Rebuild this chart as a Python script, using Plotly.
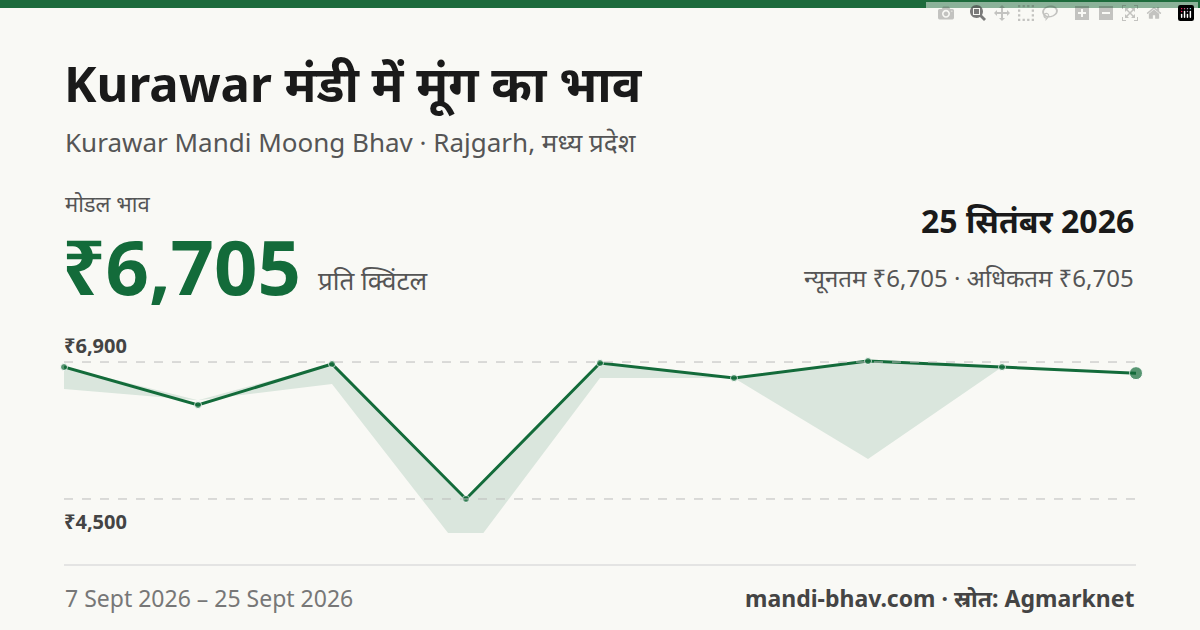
import plotly.graph_objects as go

dates = ["7 Sep","9 Sep","11 Sep","13 Sep","15 Sep","17 Sep","19 Sep","22 Sep","25 Sep"]
modal = [6812, 6147, 6865, 4500, 6882, 6620, 6917, 6812, 6705]
upper = [6812, 6230, 6865, 4500, 6882, 6620, 6917, 6812, 6705]
lower = [6427, 6230, 6515, 3500, 6620, 6620, 5200, 6812, 6705]
tick_vals = [6900, 4500]
tick_text = ["₹6,900", "₹4,500"]

GREEN = "#136b3a"
L, R, T, B = 64, 1136, 330, 533
def px(x): return (x - L) / (R - L)
def py(y): return (B - y) / (B - T)

fig = go.Figure()
xs = list(range(len(dates)))
fig.add_trace(go.Scatter(x=xs, y=upper, mode="lines", line=dict(width=0), hoverinfo="skip", showlegend=False))
fig.add_trace(go.Scatter(x=xs, y=lower, mode="lines", line=dict(width=0), fill="tonexty",
                         fillcolor="rgba(19,107,58,0.13)", hoverinfo="skip", showlegend=False))
fig.add_trace(go.Scatter(x=xs, y=modal, mode="lines+markers", line=dict(color=GREEN, width=3),
                         marker=dict(color=GREEN, size=[7]*8 + [13]), showlegend=False, cliponaxis=False))

for v in tick_vals:
    fig.add_shape(type="line", xref="paper", x0=0, x1=1, yref="y", y0=v, y1=v,
                  line=dict(color="#bbbbbb", width=1, dash="dash"))
fig.add_shape(type="line", xref="paper", yref="paper", x0=0, x1=1, y0=py(565), y1=py(565),
              line=dict(color="#dddddd", width=1.5))
fig.add_shape(type="rect", xref="paper", yref="paper", x0=px(0), x1=px(1200), y0=py(0), y1=py(8),
              fillcolor="#1d6b3c", line=dict(width=0))

def ann(text, x, y, size, color="#1a1a1a", xa="left", ya="middle", bold=False):
    if bold:
        text = "<b>" + text + "</b>"
    fig.add_annotation(text=text, x=px(x), y=py(y), xref="paper", yref="paper", showarrow=False,
                       xanchor=xa, yanchor=ya, font=dict(size=size, color=color, family="Noto Sans"))

ann("Kurawar मंडी में मूंग का भाव", 62, 84, 49, bold=True)
ann("Kurawar Mandi Moong Bhav · Rajgarh, मध्य प्रदेश", 63, 142, 26, color="#555555")
ann("मोडल भाव", 63, 203, 22, color="#555555")
ann("₹6,705", 60, 265, 76, color=GREEN, bold=True)
ann("प्रति क्विंटल", 316, 280, 26, color="#555555")
ann("25 सितंबर 2026", 1136, 220, 32, xa="right", bold=True)
ann("न्यूनतम ₹6,705 · अधिकतम ₹6,705", 1136, 277, 24, color="#555555", xa="right")
ann(tick_text[0], 62, 345, 20, color="#444444", bold=True)
ann(tick_text[1], 62, 521, 20, color="#444444", bold=True)
ann("7 Sept 2026 – 25 Sept 2026", 63, 598, 23, color="#777777")
ann("mandi-bhav.com · स्रोत: Agmarknet", 1136, 598, 23, color="#444444", xa="right", bold=True)

fig.update_layout(width=1200, height=630, margin=dict(l=L, r=1200 - R, t=T, b=630 - B),
                  paper_bgcolor="#f9f9f5", plot_bgcolor="rgba(0,0,0,0)",
                  xaxis=dict(visible=False, range=[0, len(dates) - 1]),
                  yaxis=dict(visible=False, range=[3904, 7461]))
fig.write_html("out.html", post_script="document.body.style.margin='0';document.body.style.background='#f9f9f5';")
